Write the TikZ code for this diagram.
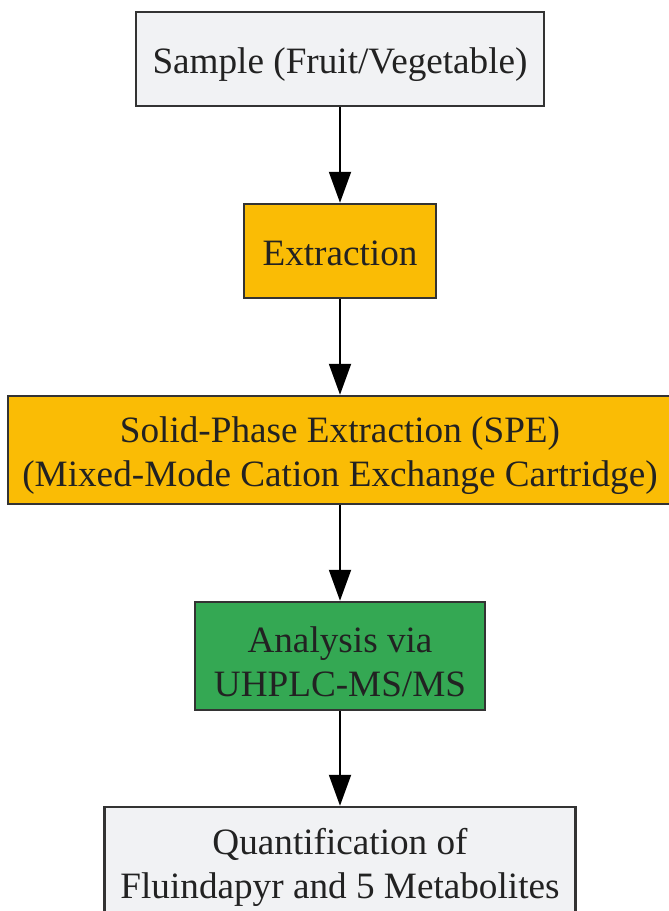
\documentclass[tikz,border=0pt]{standalone}
\usepackage{fontspec}
\setmainfont{Liberation Serif}
\usetikzlibrary{arrows.meta}
\definecolor{boxgray}{HTML}{F1F2F4}
\definecolor{boxorange}{HTML}{FABC05}
\definecolor{boxgreen}{HTML}{34A853}
\definecolor{edgegray}{HTML}{333333}
\definecolor{txt}{HTML}{222222}
\begin{document}
\begin{tikzpicture}[x=1pt,y=-1pt,
  flowbox/.style={draw=edgegray,line width=2.5pt,inner sep=0pt},
  boxtext/.style 2 args={label={[align=center,text=txt,inner sep=0pt,yshift=#2,
    font=\fontsize{37.2}{44}\selectfont]center:#1}},
  flowarrow/.style={line width=2pt,black,-{Triangle[length=31pt,width=22pt]}}]
\useasboundingbox (0,0) rectangle (669,911);
\node[flowbox,fill=boxgray,minimum width=408,minimum height=94,
  boxtext={Sample (Fruit/Vegetable)}{-6pt}] (sample) at (340,59) {};
\node[flowbox,fill=boxorange,minimum width=192,minimum height=94,
  boxtext={Extraction}{-2pt}] (extract) at (340,251) {};
\node[flowbox,fill=boxorange,minimum width=664,minimum height=108,
  boxtext={Solid-Phase Extraction (SPE)\\(Mixed-Mode Cation Exchange Cartridge)}{-6pt}] (spe) at (340,450) {};
\node[flowbox,fill=boxgreen,minimum width=290,minimum height=108,
  boxtext={Analysis via\\UHPLC-MS/MS}{-6pt}] (analysis) at (340,656) {};
\node[flowbox,fill=boxgray,minimum width=471,minimum height=108,
  boxtext={Quantification of\\Fluindapyr and 5 Metabolites}{-6pt}] (quant) at (340,861) {};
\draw[flowarrow] (sample.south) -- (extract.north);
\draw[flowarrow] (extract.south) -- (spe.north);
\draw[flowarrow] (spe.south) -- (analysis.north);
\draw[flowarrow] (analysis.south) -- (quant.north);
\end{tikzpicture}
\end{document}
